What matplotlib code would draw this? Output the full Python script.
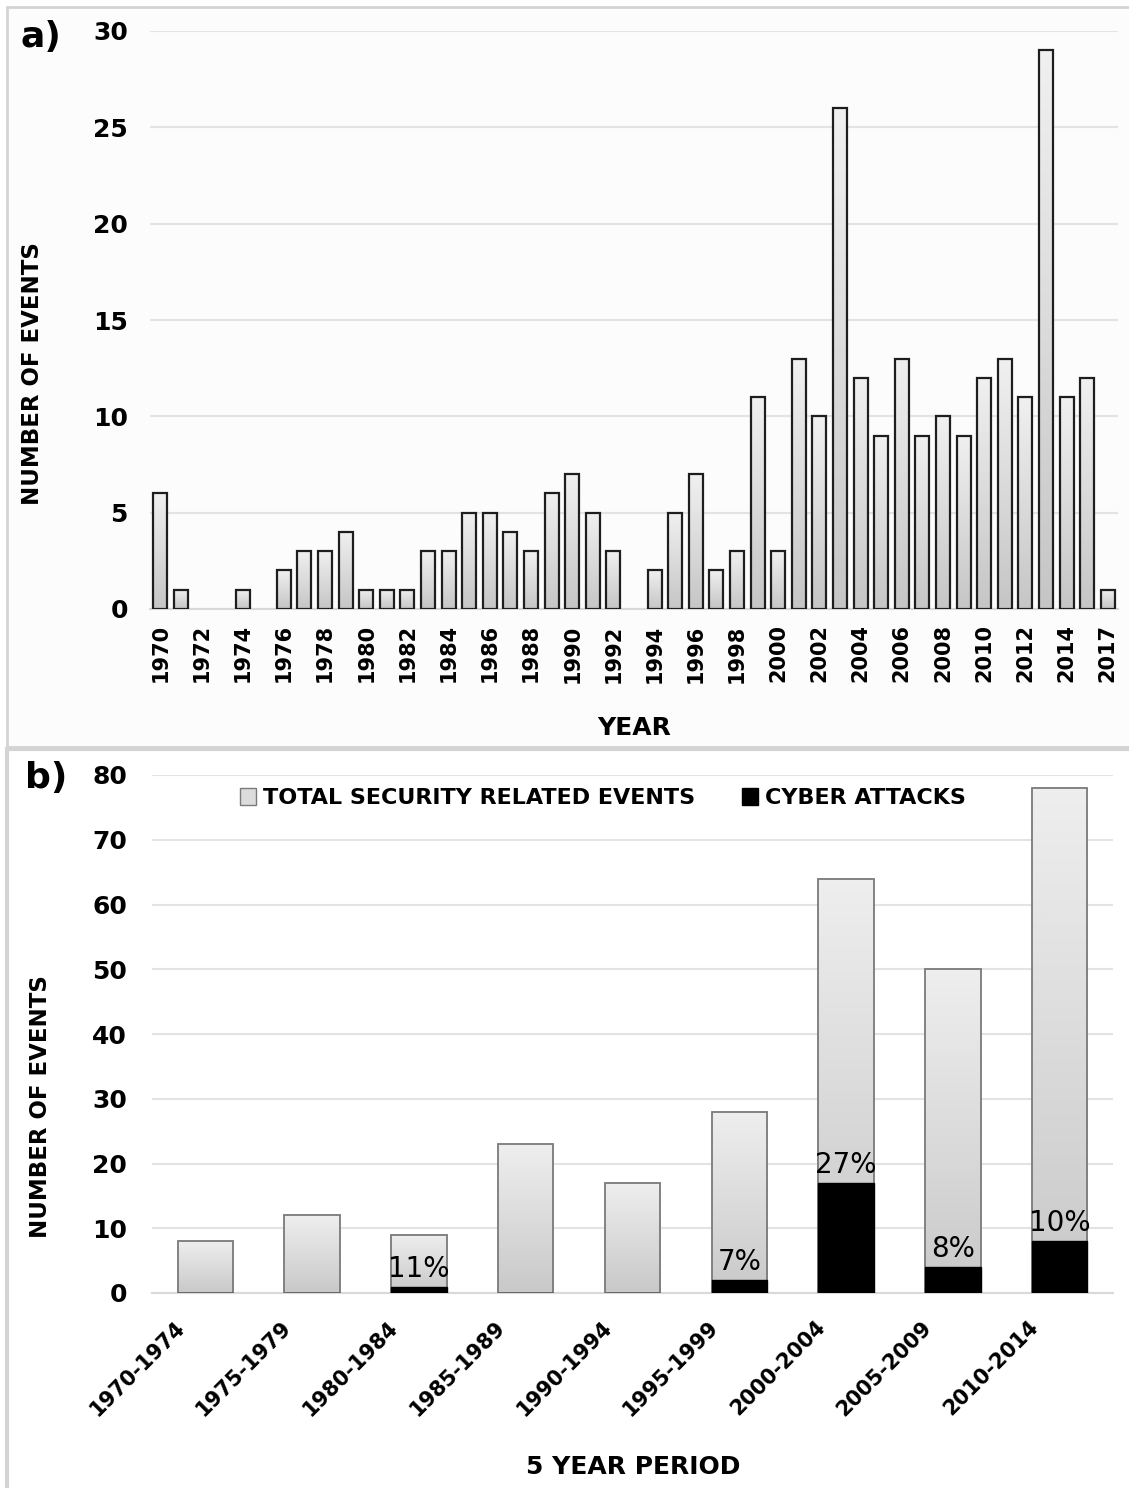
import numpy as np
import matplotlib.pyplot as plt
from matplotlib.patches import Rectangle, Patch
from matplotlib.colors import LinearSegmentedColormap
from matplotlib.transforms import ScaledTranslation

plt.rcParams['font.family'] = ['DejaVu Sans']

# panel a: events per year (2016 is not in the source)
years = [str(y) for y in range(1970, 2016)] + ['2017']
events = [6, 1, 0, 0, 1, 0, 2, 3, 3, 4,
          1, 1, 1, 3, 3, 5, 5, 4, 3, 6,
          7, 5, 3, 0, 2, 5, 7, 2, 3, 11,
          3, 13, 10, 26, 12, 9, 13, 9, 10, 9,
          12, 13, 11, 29, 11, 12, 1]

# panel b: 5 year periods
periods = ['1970-1974', '1975-1979', '1980-1984', '1985-1989', '1990-1994',
           '1995-1999', '2000-2004', '2005-2009', '2010-2014']
total_events = [8, 12, 9, 23, 17, 28, 64, 50, 78]
cyber_attacks = [0, 0, 1, 0, 0, 2, 17, 4, 8]

grad = np.linspace(0, 1, 64).reshape(-1, 1)


def gradient_bars(ax, heights, width, edge, lw, top='#f0f0f0', bottom='#c6c6c6'):
    cmap = LinearSegmentedColormap.from_list('g', [top, bottom])
    xs = np.arange(len(heights))
    hs = np.array(heights)
    for x, h in zip(xs, hs):
        if h <= 0:
            continue
        ax.imshow(grad, extent=[x - width / 2, x + width / 2, 0, h], origin='upper',
                  aspect='auto', cmap=cmap, zorder=2, interpolation='bilinear')
    keep = hs > 0
    ax.bar(xs[keep], hs[keep], width=width, facecolor='none', edgecolor=edge,
           linewidth=lw, zorder=3)
    ax.set_xlim(-0.5, len(heights) - 0.5)


def style_axis(ax, ymax, step):
    ax.set_ylim(0, ymax)
    ax.set_yticks(np.arange(0, ymax + 1, step))
    ax.grid(axis='y', color='#e3e3e3', linewidth=1.5)
    ax.set_axisbelow(True)
    for s in ['top', 'right', 'left']:
        ax.spines[s].set_visible(False)
    ax.spines['bottom'].set_color('#d9d9d9')
    ax.spines['bottom'].set_linewidth(1.5)
    ax.tick_params(length=0)
    for lab in ax.get_yticklabels():
        lab.set_fontsize(18)
        lab.set_fontweight('bold')


fig = plt.figure(figsize=(11.29, 14.88), dpi=100)

# panel frames
fig.add_artist(Rectangle((7 / 1129, 1 - 747 / 1488), 1.2, 740 / 1488, transform=fig.transFigure,
                         facecolor='#fcfcfc', edgecolor='#d4d4d4', linewidth=2, zorder=-5))
fig.add_artist(Rectangle((7 / 1129, -0.1), 1.2, 0.1 + 1 - 749 / 1488, transform=fig.transFigure,
                         facecolor='white', edgecolor='#d4d4d4', linewidth=3, zorder=-5))

# ---- panel a
ax1 = fig.add_axes([150 / 1129, 1 - 609 / 1488, 968 / 1129, 578 / 1488])
ax1.set_facecolor('none')
gradient_bars(ax1, events, 0.68, '#1e1e1e', 1.6)
style_axis(ax1, 30, 5)
ax1.set_xticks(np.arange(0, len(years), 2))
ax1.set_xticklabels(years[::2], rotation=90, fontsize=15, fontweight='bold')
ax1.tick_params(axis='x', pad=11)
ax1.tick_params(axis='y', pad=16)
ax1.set_xlabel('YEAR', fontsize=18, fontweight='bold', labelpad=24)
ax1.set_ylabel('NUMBER OF EVENTS', fontsize=16.5, fontweight='bold')
ax1.yaxis.set_label_coords(-0.1095, 0.408)
fig.text(20 / 1129, 1 - 37 / 1488, 'a)', fontsize=26, fontweight='bold', va='center')

# ---- panel b
ax2 = fig.add_axes([152 / 1129, 1 - 1293 / 1488, 961 / 1129, 518 / 1488])
ax2.set_facecolor('none')
gradient_bars(ax2, total_events, 0.52, '#7a7a7a', 1.3, top='#eeeeee', bottom='#c9c9c9')
xs = np.arange(len(periods))
ax2.bar(xs, cyber_attacks, width=0.52, color='black', edgecolor='black', linewidth=1, zorder=4)
for x, t, c in zip(xs, total_events, cyber_attacks):
    if c > 0:
        ax2.text(x, c + 0.6, f'{round(c / t * 100)}%', ha='center', va='bottom',
                 fontsize=20, zorder=5)
style_axis(ax2, 80, 10)
ax2.set_xticks(xs)
ax2.set_xticklabels([])
ax2.tick_params(axis='y', pad=18)
lab_tr = ax2.get_xaxis_transform() + ScaledTranslation(-0.24, -0.31, fig.dpi_scale_trans)
for x, p in zip(xs, periods):
    ax2.text(x, 0, p, transform=lab_tr, rotation=45, ha='right', va='center',
             rotation_mode='anchor', fontsize=15, fontweight='bold')
fig.text(633 / 1129, 1 - 1467 / 1488, '5 YEAR PERIOD', fontsize=18, fontweight='bold',
         ha='center', va='center')
ax2.set_ylabel('NUMBER OF EVENTS', fontsize=16.5, fontweight='bold')
ax2.yaxis.set_label_coords(-0.104, 0.359)
handles = [Patch(facecolor='#dcdcdc', edgecolor='#7a7a7a', label='TOTAL SECURITY RELATED EVENTS'),
           Patch(facecolor='black', edgecolor='black', label='CYBER ATTACKS')]
leg = ax2.legend(handles=handles, loc='center', bbox_to_anchor=(0.469, 0.955), ncol=2,
                 frameon=False, prop={'size': 16, 'weight': 'bold'},
                 handlelength=0.75, handleheight=0.75, handletextpad=0.3, columnspacing=2.1)
fig.text(25 / 1129, 1 - 778 / 1488, 'b)', fontsize=26, fontweight='bold', va='center')

plt.savefig('out.png', dpi=100)
